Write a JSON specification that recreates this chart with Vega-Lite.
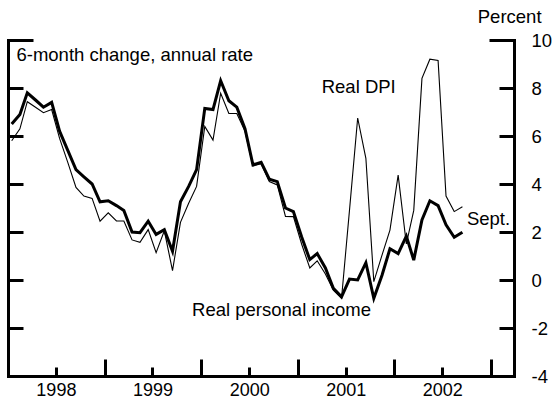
{
  "$schema": "https://vega.github.io/schema/vega-lite/v6.json",
  "width": 506,
  "height": 336,
  "autosize": "none",
  "padding": {"left": 8, "top": 40, "right": 38, "bottom": 24},
  "config": {
    "view": {"stroke": null},
    "font": "Liberation Sans",
    "locale": {"number": {"decimal": ".", "thousands": ",", "grouping": [3], "currency": ["$", ""], "minus": "-"}},
    "axis": {"labelFont": "Liberation Sans", "labelFontSize": 18.5, "labelColor": "black", "domainColor": "black", "tickColor": "black", "domainWidth": 3, "tickWidth": 3, "domainCap": "square", "grid": false, "title": null}
  },
  "datasets": {
    "lines": [
      {"date": "1998-01-15", "series": "income", "value": 6.5},
      {"date": "1998-02-15", "series": "income", "value": 6.9},
      {"date": "1998-03-15", "series": "income", "value": 7.8},
      {"date": "1998-04-15", "series": "income", "value": 7.5},
      {"date": "1998-05-15", "series": "income", "value": 7.2},
      {"date": "1998-06-15", "series": "income", "value": 7.4},
      {"date": "1998-07-15", "series": "income", "value": 6.2},
      {"date": "1998-08-15", "series": "income", "value": 5.4},
      {"date": "1998-09-15", "series": "income", "value": 4.6},
      {"date": "1998-10-15", "series": "income", "value": 4.3},
      {"date": "1998-11-15", "series": "income", "value": 4.0},
      {"date": "1998-12-15", "series": "income", "value": 3.26},
      {"date": "1999-01-15", "series": "income", "value": 3.3},
      {"date": "1999-02-15", "series": "income", "value": 3.1},
      {"date": "1999-03-15", "series": "income", "value": 2.9},
      {"date": "1999-04-15", "series": "income", "value": 2.0},
      {"date": "1999-05-15", "series": "income", "value": 1.97},
      {"date": "1999-06-15", "series": "income", "value": 2.45},
      {"date": "1999-07-15", "series": "income", "value": 1.9},
      {"date": "1999-08-15", "series": "income", "value": 2.1},
      {"date": "1999-09-15", "series": "income", "value": 1.2},
      {"date": "1999-10-15", "series": "income", "value": 3.26},
      {"date": "1999-11-15", "series": "income", "value": 3.9},
      {"date": "1999-12-15", "series": "income", "value": 4.6},
      {"date": "2000-01-15", "series": "income", "value": 7.15},
      {"date": "2000-02-15", "series": "income", "value": 7.1},
      {"date": "2000-03-15", "series": "income", "value": 8.3},
      {"date": "2000-04-15", "series": "income", "value": 7.47},
      {"date": "2000-05-15", "series": "income", "value": 7.2},
      {"date": "2000-06-15", "series": "income", "value": 6.3},
      {"date": "2000-07-15", "series": "income", "value": 4.8},
      {"date": "2000-08-15", "series": "income", "value": 4.9},
      {"date": "2000-09-15", "series": "income", "value": 4.2},
      {"date": "2000-10-15", "series": "income", "value": 4.1},
      {"date": "2000-11-15", "series": "income", "value": 3.0},
      {"date": "2000-12-15", "series": "income", "value": 2.85},
      {"date": "2001-01-15", "series": "income", "value": 1.8},
      {"date": "2001-02-15", "series": "income", "value": 0.85},
      {"date": "2001-03-15", "series": "income", "value": 1.1},
      {"date": "2001-04-15", "series": "income", "value": 0.5},
      {"date": "2001-05-15", "series": "income", "value": -0.35},
      {"date": "2001-06-15", "series": "income", "value": -0.7},
      {"date": "2001-07-15", "series": "income", "value": 0.04},
      {"date": "2001-08-15", "series": "income", "value": 0.0},
      {"date": "2001-09-15", "series": "income", "value": 0.72},
      {"date": "2001-10-15", "series": "income", "value": -0.76},
      {"date": "2001-11-15", "series": "income", "value": 0.2},
      {"date": "2001-12-15", "series": "income", "value": 1.3},
      {"date": "2002-01-15", "series": "income", "value": 1.1},
      {"date": "2002-02-15", "series": "income", "value": 1.83},
      {"date": "2002-03-15", "series": "income", "value": 0.83},
      {"date": "2002-04-15", "series": "income", "value": 2.5},
      {"date": "2002-05-15", "series": "income", "value": 3.3},
      {"date": "2002-06-15", "series": "income", "value": 3.1},
      {"date": "2002-07-15", "series": "income", "value": 2.3},
      {"date": "2002-08-15", "series": "income", "value": 1.78},
      {"date": "2002-09-15", "series": "income", "value": 1.99},
      {"date": "1998-01-15", "series": "dpi", "value": 5.8},
      {"date": "1998-02-15", "series": "dpi", "value": 6.3},
      {"date": "1998-03-15", "series": "dpi", "value": 7.43},
      {"date": "1998-04-15", "series": "dpi", "value": 7.2},
      {"date": "1998-05-15", "series": "dpi", "value": 6.97},
      {"date": "1998-06-15", "series": "dpi", "value": 7.1},
      {"date": "1998-07-15", "series": "dpi", "value": 5.9},
      {"date": "1998-08-15", "series": "dpi", "value": 4.9},
      {"date": "1998-09-15", "series": "dpi", "value": 3.86},
      {"date": "1998-10-15", "series": "dpi", "value": 3.5},
      {"date": "1998-11-15", "series": "dpi", "value": 3.4},
      {"date": "1998-12-15", "series": "dpi", "value": 2.45},
      {"date": "1999-01-15", "series": "dpi", "value": 2.8},
      {"date": "1999-02-15", "series": "dpi", "value": 2.46},
      {"date": "1999-03-15", "series": "dpi", "value": 2.46},
      {"date": "1999-04-15", "series": "dpi", "value": 1.67},
      {"date": "1999-05-15", "series": "dpi", "value": 1.57},
      {"date": "1999-06-15", "series": "dpi", "value": 2.1},
      {"date": "1999-07-15", "series": "dpi", "value": 1.14},
      {"date": "1999-08-15", "series": "dpi", "value": 2.05},
      {"date": "1999-09-15", "series": "dpi", "value": 0.39},
      {"date": "1999-10-15", "series": "dpi", "value": 2.4},
      {"date": "1999-11-15", "series": "dpi", "value": 3.2},
      {"date": "1999-12-15", "series": "dpi", "value": 3.9},
      {"date": "2000-01-15", "series": "dpi", "value": 6.4},
      {"date": "2000-02-15", "series": "dpi", "value": 5.83},
      {"date": "2000-03-15", "series": "dpi", "value": 7.78},
      {"date": "2000-04-15", "series": "dpi", "value": 6.94},
      {"date": "2000-05-15", "series": "dpi", "value": 6.94},
      {"date": "2000-06-15", "series": "dpi", "value": 6.2},
      {"date": "2000-07-15", "series": "dpi", "value": 4.75},
      {"date": "2000-08-15", "series": "dpi", "value": 4.85},
      {"date": "2000-09-15", "series": "dpi", "value": 4.1},
      {"date": "2000-10-15", "series": "dpi", "value": 3.96},
      {"date": "2000-11-15", "series": "dpi", "value": 2.65},
      {"date": "2000-12-15", "series": "dpi", "value": 2.64},
      {"date": "2001-01-15", "series": "dpi", "value": 1.5},
      {"date": "2001-02-15", "series": "dpi", "value": 0.5},
      {"date": "2001-03-15", "series": "dpi", "value": 0.8},
      {"date": "2001-04-15", "series": "dpi", "value": 0.25},
      {"date": "2001-05-15", "series": "dpi", "value": -0.42},
      {"date": "2001-06-15", "series": "dpi", "value": -0.76},
      {"date": "2001-07-15", "series": "dpi", "value": 2.9},
      {"date": "2001-08-15", "series": "dpi", "value": 6.75},
      {"date": "2001-09-15", "series": "dpi", "value": 5.07},
      {"date": "2001-10-15", "series": "dpi", "value": -0.07},
      {"date": "2001-11-15", "series": "dpi", "value": 1.04},
      {"date": "2001-12-15", "series": "dpi", "value": 2.08},
      {"date": "2002-01-15", "series": "dpi", "value": 4.37},
      {"date": "2002-02-15", "series": "dpi", "value": 1.5},
      {"date": "2002-03-15", "series": "dpi", "value": 2.9},
      {"date": "2002-04-15", "series": "dpi", "value": 8.4},
      {"date": "2002-05-15", "series": "dpi", "value": 9.2},
      {"date": "2002-06-15", "series": "dpi", "value": 9.15},
      {"date": "2002-07-15", "series": "dpi", "value": 3.5},
      {"date": "2002-08-15", "series": "dpi", "value": 2.85},
      {"date": "2002-09-15", "series": "dpi", "value": 3.05}
    ],
    "notes": [
      {"date": "1998-02-02", "value": 9.375, "label": "6-month change, annual rate"},
      {"date": "2001-04-01", "value": 8.05, "label": "Real DPI"},
      {"date": "2002-10-02", "value": 2.56, "label": "Sept."},
      {"date": "1999-11-28", "value": -1.25, "label": "Real personal income"},
      {"date": "2002-11-12", "value": 10.96, "label": "Percent"}
    ]
  },
  "layer": [
    {
      "data": {"name": "notes"},
      "mark": {"type": "text", "align": "left", "baseline": "middle", "fontSize": 18.5, "font": "Liberation Sans", "color": "black"},
      "encoding": {
        "x": {
          "field": "date", "type": "temporal",
          "scale": {"type": "utc", "domain": [{"year": 1998, "month": 1, "date": 1, "utc": true}, {"year": 2003, "month": 3, "date": 29, "utc": true}]},
          "axis": {
            "orient": "bottom",
            "values": [
              {"year": 1998, "month": 1, "date": 1, "utc": true}, {"year": 1998, "month": 4, "date": 1, "utc": true}, {"year": 1998, "month": 7, "date": 1, "utc": true}, {"year": 1998, "month": 10, "date": 1, "utc": true},
              {"year": 1999, "month": 1, "date": 1, "utc": true}, {"year": 1999, "month": 4, "date": 1, "utc": true}, {"year": 1999, "month": 7, "date": 1, "utc": true}, {"year": 1999, "month": 10, "date": 1, "utc": true},
              {"year": 2000, "month": 1, "date": 1, "utc": true}, {"year": 2000, "month": 4, "date": 1, "utc": true}, {"year": 2000, "month": 7, "date": 1, "utc": true}, {"year": 2000, "month": 10, "date": 1, "utc": true},
              {"year": 2001, "month": 1, "date": 1, "utc": true}, {"year": 2001, "month": 4, "date": 1, "utc": true}, {"year": 2001, "month": 7, "date": 1, "utc": true}, {"year": 2001, "month": 10, "date": 1, "utc": true},
              {"year": 2002, "month": 1, "date": 1, "utc": true}, {"year": 2002, "month": 4, "date": 1, "utc": true}, {"year": 2002, "month": 7, "date": 1, "utc": true}, {"year": 2002, "month": 10, "date": 1, "utc": true},
              {"year": 2003, "month": 1, "date": 1, "utc": true}
            ],
            "tickSize": {"condition": {"test": "utcmonth(datum.value) == 0", "value": -17}, "value": -9},
            "labelExpr": "utcmonth(datum.value) == 6 ? '' + utcyear(datum.value) : ''",
            "labelOverlap": false,
            "labelFlush": false,
            "labelBound": false,
            "labelPadding": 28.5,
            "labelAlign": "center",
            "labelBaseline": "alphabetic",
            "labelFontSize": 18
          }
        },
        "y": {
          "field": "value", "type": "quantitative",
          "scale": {"domain": [-4, 10], "nice": false, "zero": false},
          "axis": {
            "orient": "right",
            "values": [-4, -2, 0, 2, 4, 6, 8, 10],
            "domain": false,
            "ticks": false,
            "tickSize": 0,
            "format": "d",
            "labelAlign": "left",
            "labelBaseline": "middle",
            "labelPadding": 17,
            "labelFlush": false,
            "labelOverlap": false,
            "encode": {"labels": {"update": {"dx": {"signal": "datum.value < 0 ? -6 : 0"}, "dy": {"signal": "datum.value == 10 ? -4 : 0"}}}}
          }
        },
        "text": {"field": "label", "type": "nominal"}
      }
    },
    {
      "data": {"name": "lines"},
      "transform": [{"filter": "datum.series == 'income'"}],
      "mark": {"type": "line", "color": "black", "strokeJoin": "miter", "strokeWidth": 3},
      "encoding": {
        "x": {"field": "date", "type": "temporal"},
        "y": {
          "field": "value", "type": "quantitative",
          "axis": {
            "orient": "left",
            "values": [-4, -2, 0, 2, 4, 6, 8, 10],
            "tickSize": {"condition": {"test": "datum.value == 10", "value": -25}, "value": -15},
            "labels": false
          }
        }
      }
    },
    {
      "data": {"name": "lines"},
      "transform": [{"filter": "datum.series == 'dpi'"}],
      "mark": {"type": "line", "color": "black", "strokeJoin": "miter", "strokeWidth": 1.1},
      "encoding": {
        "x": {"field": "date", "type": "temporal"},
        "y": {
          "field": "value", "type": "quantitative",
          "axis": {
            "orient": "left",
            "offset": -506,
            "values": [-4, -2, 0, 2, 4, 6, 8, 10],
            "tickSize": {"condition": {"test": "datum.value == 10", "value": 25}, "value": 15},
            "labels": false
          }
        }
      }
    }
  ],
  "resolve": {"axis": {"y": "independent"}}
}
